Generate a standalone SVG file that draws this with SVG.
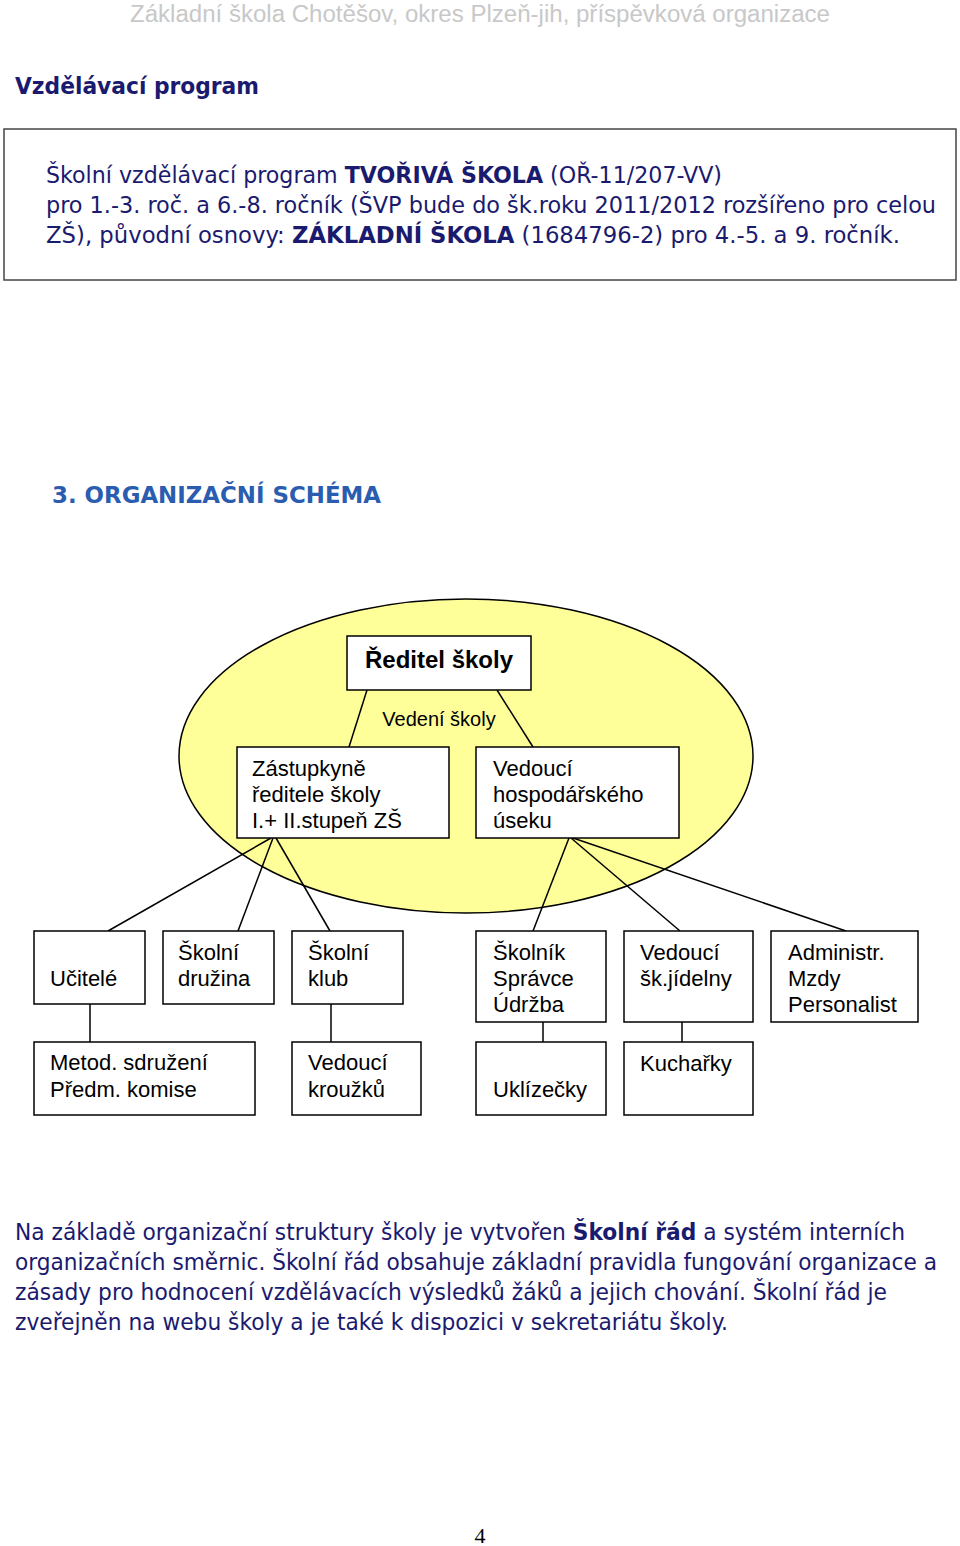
<svg xmlns="http://www.w3.org/2000/svg" width="960" height="1546" viewBox="0 0 960 1546">
<style>
.t{font-family:"Liberation Sans",Arial,sans-serif;font-size:22px;fill:#000}
.n{fill:#1a1a6e;font-family:"DejaVu Sans Condensed","Liberation Sans",sans-serif;font-size:23px}
.b{fill:#fff;stroke:#000;stroke-width:1.5}
.c line{stroke:#000;stroke-width:1.5}
</style>
<rect width="960" height="1546" fill="#fff"/>
<text x="480" y="22" text-anchor="middle" textLength="700" lengthAdjust="spacingAndGlyphs" style="font-family:'Liberation Sans',sans-serif;font-size:23px;fill:#c8c8c8">Základní škola Chotěšov, okres Plzeň-jih, příspěvková organizace</text>
<text x="15" y="94" class="n" style="font-weight:bold" textLength="244" lengthAdjust="spacingAndGlyphs">Vzdělávací program</text>
<rect x="4" y="129" width="952" height="151" fill="none" stroke="#444" stroke-width="1.5"/>
<text class="n" x="46" y="183" textLength="676" lengthAdjust="spacingAndGlyphs">Školní vzdělávací program <tspan font-weight="bold">TVOŘIVÁ ŠKOLA</tspan> (OŘ-11/207-VV)</text>
<text class="n" x="46" y="213" textLength="890" lengthAdjust="spacingAndGlyphs">pro  1.-3. roč. a 6.-8. ročník  (ŠVP bude do šk.roku 2011/2012 rozšířeno pro celou</text>
<text class="n" x="46" y="243" textLength="854" lengthAdjust="spacingAndGlyphs">ZŠ),  původní osnovy:  <tspan font-weight="bold">ZÁKLADNÍ ŠKOLA</tspan> (1684796-2)  pro 4.-5. a 9. ročník.</text>
<text x="52" y="503" style="font-family:'DejaVu Sans Condensed','Liberation Sans',sans-serif;font-size:23px;font-weight:bold;fill:#2a5db0" textLength="329" lengthAdjust="spacingAndGlyphs">3. ORGANIZAČNÍ SCHÉMA</text>
<ellipse cx="466" cy="756" rx="287" ry="157" fill="#ffff99" stroke="#000" stroke-width="1.5"/>
<g class="c" id="connectors">
<line x1="367" y1="690" x2="349" y2="747"/>
<line x1="497" y1="690" x2="533" y2="747"/>
<line x1="271" y1="838" x2="108" y2="931"/>
<line x1="273" y1="838" x2="238" y2="931"/>
<line x1="276" y1="838" x2="330" y2="931"/>
<line x1="569" y1="838" x2="533" y2="931"/>
<line x1="571" y1="838" x2="680" y2="931"/>
<line x1="573" y1="838" x2="846" y2="931"/>
<line x1="90" y1="1004" x2="90" y2="1042"/>
<line x1="331" y1="1004" x2="331" y2="1042"/>
<line x1="543" y1="1022" x2="543" y2="1042"/>
<line x1="682" y1="1022" x2="682" y2="1042"/>
</g>
<text x="439" y="726" text-anchor="middle" class="t" style="font-size:20px">Vedení školy</text>
<g id="reditel"><rect class="b" x="347" y="636" width="184" height="54"/><text x="439" y="668" text-anchor="middle" class="t" style="font-weight:bold;font-size:24px">Ředitel školy</text></g>
<g id="zastupkyne"><rect class="b" x="237" y="747" width="212" height="91"/><text class="t" x="252" y="776">Zástupkyně</text><text class="t" x="252" y="802">ředitele školy</text><text class="t" x="252" y="828">I.+ II.stupeň ZŠ</text></g>
<g id="hosp"><rect class="b" x="476" y="747" width="203" height="91"/><text class="t" x="493" y="776">Vedoucí</text><text class="t" x="493" y="802">hospodářského</text><text class="t" x="493" y="828">úseku</text></g>
<g id="ucitele"><rect class="b" x="34" y="931" width="111" height="73"/><text class="t" x="50" y="986">Učitelé</text></g>
<g id="druzina"><rect class="b" x="163" y="931" width="111" height="73"/><text class="t" x="178" y="960">Školní</text><text class="t" x="178" y="986">družina</text></g>
<g id="klub"><rect class="b" x="292" y="931" width="111" height="73"/><text class="t" x="308" y="960">Školní</text><text class="t" x="308" y="986">klub</text></g>
<g id="skolnik"><rect class="b" x="476" y="931" width="130" height="91"/><text class="t" x="493" y="960">Školník</text><text class="t" x="493" y="986">Správce</text><text class="t" x="493" y="1012">Údržba</text></g>
<g id="jidelna"><rect class="b" x="624" y="931" width="129" height="91"/><text class="t" x="640" y="960">Vedoucí</text><text class="t" x="640" y="986">šk.jídelny</text></g>
<g id="admin"><rect class="b" x="771" y="931" width="147" height="91"/><text class="t" x="788" y="960">Administr.</text><text class="t" x="788" y="986">Mzdy</text><text class="t" x="788" y="1012">Personalist</text></g>
<g id="metod"><rect class="b" x="34" y="1042" width="221" height="73"/><text class="t" x="50" y="1070">Metod. sdružení</text><text class="t" x="50" y="1097">Předm. komise</text></g>
<g id="krouzky"><rect class="b" x="292" y="1042" width="129" height="73"/><text class="t" x="308" y="1070">Vedoucí</text><text class="t" x="308" y="1097">kroužků</text></g>
<g id="uklizecky"><rect class="b" x="476" y="1042" width="130" height="73"/><text class="t" x="493" y="1097">Uklízečky</text></g>
<g id="kucharky"><rect class="b" x="624" y="1042" width="129" height="73"/><text class="t" x="640" y="1071">Kuchařky</text></g>
<text class="n" x="15" y="1240" textLength="890" lengthAdjust="spacingAndGlyphs">Na základě organizační struktury školy je vytvořen <tspan font-weight="bold">Školní řád</tspan> a systém  interních</text>
<text class="n" x="15" y="1270" textLength="922" lengthAdjust="spacingAndGlyphs">organizačních  směrnic. Školní řád obsahuje základní pravidla fungování organizace a</text>
<text class="n" x="15" y="1300" textLength="872" lengthAdjust="spacingAndGlyphs">zásady pro hodnocení vzdělávacích výsledků žáků a jejich chování.  Školní řád je</text>
<text class="n" x="15" y="1330" textLength="713" lengthAdjust="spacingAndGlyphs">zveřejněn na webu školy a je také k dispozici v sekretariátu školy.</text>
<text x="480" y="1543" text-anchor="middle" style="font-family:'Liberation Serif',serif;font-size:22px">4</text>
</svg>
